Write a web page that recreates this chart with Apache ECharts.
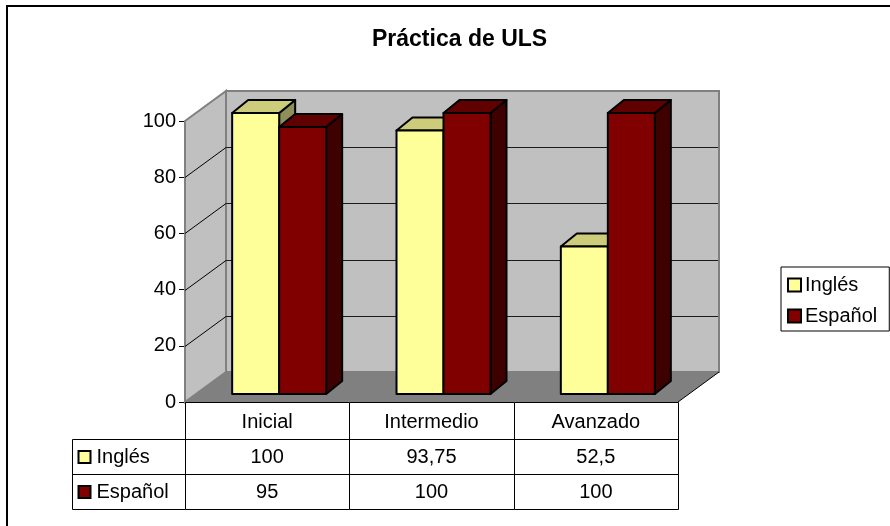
<!DOCTYPE html>
<html>
<head>
<meta charset="utf-8">
<title>Práctica de ULS</title>
<script src="https://cdn.jsdelivr.net/npm/echarts@6/dist/echarts.min.js"></script>
<style>
  html, body { margin: 0; padding: 0; background: #fff; }
  #chart { width: 890px; height: 526px; }
</style>
</head>
<body>
<div id="chart"></div>
<script>
// Chart data
const categories = ['Inicial', 'Intermedio', 'Avanzado'];
const seriesNames = ['Inglés', 'Español'];
const ingles = [100, 93.75, 52.5];
const espanol = [95, 100, 100];
const yTicks = [0, 20, 40, 60, 80, 100];

// Styling constants
const FONT = '"Liberation Sans", Arial, sans-serif';
const FS = 20;
const WALL_DX = 41, WALL_DY = -30;   // depth of the wall box
const BAR_DX = 16, BAR_DY = -13;     // depth of each column
const ROW_H = [37, 35, 35];          // data table row heights
const LABEL_W = 114;                 // data table label column width
const faces = {
  'Inglés':  { front: '#FFFF99', top: '#CCCC7A', side: '#8F8F59' },
  'Español': { front: '#800000', top: '#600000', side: '#3F0000' }
};
const seriesData = { 'Inglés': ingles, 'Español': espanol };
const fmt = v => String(v).replace('.', ',');
const px = v => Math.round(v) + 0.5;

// Back wall, side wall, floor and gridlines of the 3D box
function renderWalls(params, api) {
  const cs = params.coordSys;
  const x0 = cs.x, y0 = cs.y, w = cs.width, h = cs.height;
  const yb = y0 + h;
  const ch = [];
  ch.push({ type: 'polygon', shape: { points: [[x0, y0], [x0 + WALL_DX, y0 + WALL_DY], [x0 + WALL_DX, yb + WALL_DY], [x0, yb]] },
            style: { fill: '#C0C0C0', stroke: '#808080', lineWidth: 2 } });
  ch.push({ type: 'rect', shape: { x: x0 + WALL_DX, y: y0 + WALL_DY, width: w, height: h },
            style: { fill: '#C0C0C0', stroke: '#808080', lineWidth: 2 } });
  ch.push({ type: 'polygon', shape: { points: [[x0, yb], [x0 + w, yb], [x0 + w + WALL_DX, yb + WALL_DY], [x0 + WALL_DX, yb + WALL_DY]] },
            style: { fill: '#808080' } });
  ch.push({ type: 'line', shape: { x1: x0 + w, y1: yb, x2: x0 + w + WALL_DX, y2: yb + WALL_DY },
            style: { stroke: '#000', lineWidth: 1 } });
  yTicks.slice(1, -1).forEach(v => {
    const y = px(api.coord([0, v])[1]);
    ch.push({ type: 'line', shape: { x1: x0, y1: y, x2: x0 + WALL_DX, y2: y + WALL_DY },
              style: { stroke: '#000', lineWidth: 1 } });
    ch.push({ type: 'line', shape: { x1: x0 + WALL_DX, y1: y + WALL_DY, x2: x0 + w + WALL_DX - 1, y2: y + WALL_DY },
              style: { stroke: '#1a1a1a', lineWidth: 1 } });
  });
  return { type: 'group', children: ch };
}

// One 3D column: side face, top face, front face
function makeBarRenderer(slot, name) {
  const c = faces[name];
  return function (params, api) {
    const idx = api.value(0), val = api.value(1);
    const top = api.coord([idx, val]);
    const base = api.coord([idx, 0]);
    const band = api.size([1, 0])[0];
    const bw = band * 0.286;
    const L = top[0] - bw + slot * bw, R = L + bw;
    const T = top[1], B = base[1];
    const st = { stroke: '#000', lineWidth: 2, lineJoin: 'round' };
    return { type: 'group', children: [
      { type: 'polygon', shape: { points: [[R, T], [R + BAR_DX, T + BAR_DY], [R + BAR_DX, B + BAR_DY], [R, B]] },
        style: Object.assign({ fill: c.side }, st) },
      { type: 'polygon', shape: { points: [[L, T], [L + BAR_DX, T + BAR_DY], [R + BAR_DX, T + BAR_DY], [R, T]] },
        style: Object.assign({ fill: c.top }, st) },
      { type: 'rect', shape: { x: L, y: T, width: bw, height: B - T },
        style: Object.assign({ fill: c.front }, st) }
    ] };
  };
}

// Data table under the category axis
function renderTable(params, api) {
  const idx = api.value(0);
  const cs = params.coordSys;
  const band = api.size([1, 0])[0];
  const cx = api.coord([idx, 0])[0];
  const yb = cs.y + cs.height;
  const xl = px(cx - band / 2), xr = px(cx + band / 2);
  const r0 = px(yb), r1 = px(yb + ROW_H[0]), r2 = px(yb + ROW_H[0] + ROW_H[1]), r3 = px(yb + ROW_H[0] + ROW_H[1] + ROW_H[2]);
  const line = (x1, y1, x2, y2) => ({ type: 'line', shape: { x1, y1, x2, y2 }, style: { stroke: '#000', lineWidth: 1 } });
  const text = (t, x, y, align) => ({ type: 'text', style: { text: t, x, y, fill: '#000', font: FS + 'px ' + FONT,
    align: align || 'center', verticalAlign: 'middle', textAlign: align || 'center', textVerticalAlign: 'middle' } });
  const ch = [
    line(xl, r0, xr, r0), line(xl, r1, xr, r1), line(xl, r2, xr, r2), line(xl, r3, xr, r3),
    line(xr, r0, xr, r3),
    text(categories[idx], cx, (r0 + r1) / 2 + 1),
    text(fmt(ingles[idx]), cx, (r1 + r2) / 2),
    text(fmt(espanol[idx]), cx, (r2 + r3) / 2)
  ];
  if (idx === 0) {
    const lx = px(xl - LABEL_W);
    ch.push(line(xl, r0, xl, r3), line(lx, r1, xl, r1), line(lx, r2, xl, r2), line(lx, r3, xl, r3), line(lx, r1, lx, r3));
    seriesNames.forEach((n, k) => {
      const ym = k === 0 ? (r1 + r2) / 2 : (r2 + r3) / 2;
      ch.push({ type: 'rect', shape: { x: lx + 6, y: Math.round(ym - 6), width: 12, height: 12 },
                style: { fill: faces[n].front, stroke: '#000', lineWidth: 2 } });
      ch.push(text(n, lx + 24, ym, 'left'));
    });
  }
  return { type: 'group', children: ch };
}

const chart = echarts.init(document.getElementById('chart'), null, { renderer: 'canvas' });
chart.setOption({
  animation: false,
  backgroundColor: '#fff',
  graphic: [{ type: 'rect', shape: { x: 7, y: 6, width: 1200, height: 1200 },
              style: { fill: null, stroke: '#000', lineWidth: 2 }, z: 100 }],
  title: {
    text: 'Práctica de ULS', left: 367, top: 23,
    textStyle: { fontFamily: FONT, fontSize: 23, fontWeight: 'bold', color: '#000' }
  },
  legend: {
    orient: 'vertical', left: 781, top: 267,
    backgroundColor: '#fff', borderColor: '#000', borderWidth: 1, borderRadius: 0,
    padding: [8, 12, 5, 6], itemGap: 11, itemWidth: 13, itemHeight: 13, icon: 'rect',
    textStyle: { fontFamily: FONT, fontSize: FS, color: '#000', padding: [0, 0, 0, -1] },
    data: seriesNames.map(n => ({ name: n, itemStyle: { color: faces[n].front, borderColor: '#000', borderWidth: 2 } }))
  },
  grid: [
    { left: 185, top: 121, right: 212, bottom: 124 },   // front plane of the box
    { left: 197, top: 113, right: 200, bottom: 132 }    // plane where the columns stand
  ],
  xAxis: [
    { type: 'category', gridIndex: 0, data: categories, show: false },
    { type: 'category', gridIndex: 1, data: categories, show: false }
  ],
  yAxis: [
    { type: 'value', gridIndex: 0, min: 0, max: 100, interval: 20,
      axisLine: { show: true, lineStyle: { color: '#000', width: 1 } },
      axisTick: { show: true, length: 6, lineStyle: { color: '#000' } },
      axisLabel: { fontFamily: FONT, fontSize: FS, color: '#000', margin: 9 },
      splitLine: { show: false } },
    { type: 'value', gridIndex: 1, min: 0, max: 100, show: false, splitLine: { show: false } }
  ],
  series: [
    { type: 'custom', name: 'walls', xAxisIndex: 0, yAxisIndex: 0, z: 1, silent: true,
      data: [[0, 0]], renderItem: renderWalls },
    { type: 'custom', name: 'table', xAxisIndex: 0, yAxisIndex: 0, z: 2, silent: true,
      data: categories.map((c, i) => [i, 0]), renderItem: renderTable },
    ...seriesNames.map((n, k) => ({
      type: 'custom', name: n, xAxisIndex: 1, yAxisIndex: 1, z: 3 + k,
      data: seriesData[n].map((v, i) => [i, v]), encode: { x: 0, y: 1 },
      itemStyle: { color: faces[n].front },
      renderItem: makeBarRenderer(k, n)
    }))
  ]
});
</script>
</body>
</html>
